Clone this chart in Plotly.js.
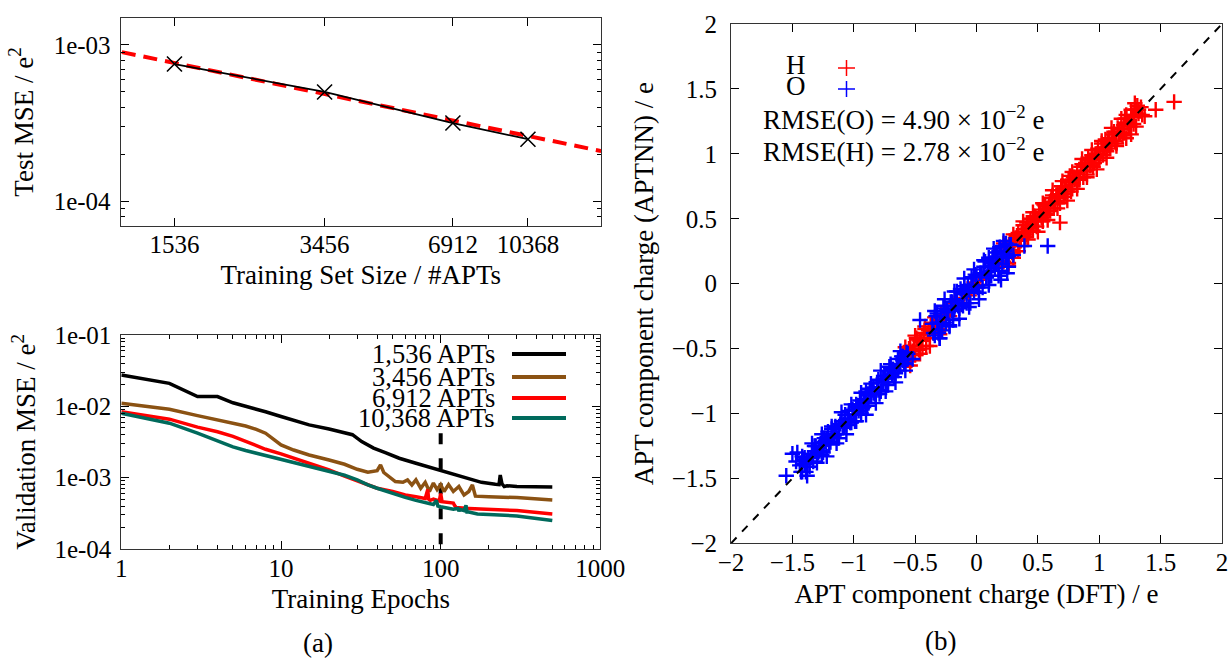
<!DOCTYPE html>
<html>
<head>
<meta charset="utf-8">
<script src="https://cdn.plot.ly/plotly-3.0.1.min.js"></script>
<style>html,body{margin:0;padding:0;background:#fff;}#chart{width:1228px;height:658px;}</style>
</head>
<body>
<div id="chart"></div>
<script>
// ---------- Panel (a) top: test MSE vs training set size ----------
const trainSizes = [1536, 3456, 6912, 10368];
const testMSE = [7.55e-4, 5.0e-4, 3.16e-4, 2.49e-4];
const fitSizes = [1156, 15400];
const fitMSE = [9.0e-4, 2.09e-4];
const sizeTickText = ['1536', '3456', '6912', '10368'];

// ---------- Panel (a) bottom: validation MSE vs epochs ----------
const ep1536 = [1,2,3,4,5,6,7,8,10,12,15,20,25,28,32,38,45,55,70,85,100,120,150,180,220,232,236,242,250,260,300,500];
const val1536 = [0.0275,0.021,0.0137,0.0137,0.0112,0.0101,0.0092,0.0084,0.0072,0.0063,0.0055,0.0048,0.0043,0.0040,0.0032,0.0026,0.00224,0.00187,0.00159,0.0014,0.00125,0.00113,0.00096,0.00086,0.00081,0.00080,0.00109,0.00082,0.00075,0.00077,0.00075,0.00074];
const ep3456 = [1,2,3,4,5,6,7,8,9,10,12,15,20,25,30,35,40,42,44,48,52,58,62,66,70,75,80,85,90,95,100,105,112,120,130,140,150,158,165,200,300,500];
const val3456 = [0.011,0.0091,0.0074,0.0065,0.0059,0.0053,0.00476,0.0042,0.00344,0.00287,0.00244,0.00208,0.00177,0.00154,0.00131,0.00119,0.00125,0.00151,0.00118,0.00103,0.00088,0.00086,0.00093,0.00079,0.00093,0.00071,0.00086,0.00064,0.00084,0.00068,0.00080,0.00064,0.00080,0.00064,0.00075,0.00057,0.00064,0.00079,0.00055,0.00054,0.000525,0.000486];
const ep6912 = [1,2,3,4,5,6,7,8,10,12,15,20,25,30,35,40,50,60,70,80,83,84,86,90,98,100,102,110,120,122,125,150,200,300,500];
const val6912 = [0.0084,0.0066,0.0051,0.0044,0.0038,0.0032,0.0028,0.0025,0.00215,0.00187,0.0016,0.00128,0.00105,0.00091,0.00079,0.00071,0.00064,0.00057,0.00054,0.00051,0.00068,0.00050,0.00048,0.00050,0.00047,0.00060,0.00046,0.00045,0.00044,0.00041,0.00038,0.00037,0.00036,0.000345,0.00031];
const ep10368 = [1,2,3,4,5,6,7,8,10,12,15,20,25,30,35,40,50,60,70,80,90,94,96,100,120,128,130,132,140,144,146,150,170,200,300,500];
const val10368 = [0.0080,0.0058,0.0042,0.0033,0.0027,0.0024,0.0022,0.00205,0.0018,0.00166,0.00145,0.00125,0.00108,0.00093,0.00079,0.00071,0.00060,0.00053,0.00048,0.00045,0.00042,0.00048,0.00040,0.00039,0.00036,0.00037,0.00034,0.00036,0.000345,0.00041,0.00033,0.00033,0.00031,0.000305,0.00029,0.00025];
const stopEpoch = [100, 100];
const stopMSE = [4.2e-3, 1e-4];
const legendLabels = ['1,536 APTs', '3,456 APTs', '6,912 APTs', '10,368 APTs'];

// ---------- Panel (b): APT component charges ----------
const hX = [-0.58,-0.56,-0.54,-0.52,-0.50,-0.48,-0.46,-0.44,-0.42,-0.40,-0.38,-0.36,-0.34,-0.32,-0.30,-0.28,
  -0.57,-0.55,-0.53,-0.51,-0.49,-0.47,-0.45,-0.43,-0.41,-0.39,-0.37,-0.35,-0.33,-0.31,-0.29,
  -0.58,-0.54,-0.50,-0.46,-0.42,-0.38,-0.34,-0.30,
  -0.26,-0.22,-0.18,-0.14,-0.10,-0.06,-0.02,0.02,0.06,0.10,0.14,0.18,0.26,0.30,
  0.20,0.22,0.24,0.26,0.28,0.30,0.32,0.34,0.36,0.38,0.40,0.42,0.44,0.46,0.48,0.50,0.52,0.54,0.56,0.58,0.60,0.62,0.64,0.66,0.68,0.70,0.72,0.74,0.76,0.78,0.80,0.82,0.84,0.86,0.88,0.90,0.92,0.94,0.96,0.98,1.00,1.02,1.04,1.06,1.08,1.10,1.12,1.14,1.16,1.18,1.20,1.22,1.24,1.26,1.28,1.30,1.32,1.34,
  0.21,0.23,0.25,0.27,0.29,0.31,0.33,0.35,0.37,0.39,0.41,0.43,0.45,0.47,0.49,0.51,0.53,0.55,0.57,0.59,0.61,0.63,0.65,0.67,0.69,0.71,0.73,0.75,0.77,0.79,0.81,0.83,0.85,0.87,0.89,0.91,0.93,0.95,0.97,0.99,1.01,1.03,1.05,1.07,1.09,1.11,1.13,1.15,1.17,1.19,1.21,1.23,1.25,1.27,1.29,
  0.22,0.26,0.30,0.34,0.38,0.42,0.46,0.50,0.54,0.58,0.62,0.66,0.70,0.74,0.78,0.82,0.86,0.90,0.94,0.98,1.02,1.06,1.10,1.14,1.18,1.22,1.26,1.30,
  0.24,0.28,0.32,0.36,0.40,0.44,0.48,0.52,0.56,0.60,0.64,0.68,0.72,0.76,0.80,0.84,0.88,0.92,0.96,1.00,1.04,1.08,1.12,1.16,1.20,1.24,1.28,1.32,
  1.61,1.46,1.29,1.31,1.26,0.68,1.35,1.22,1.37];
const hY = [-0.54,-0.59,-0.48,-0.52,-0.55,-0.43,-0.44,-0.50,-0.35,-0.39,-0.42,-0.30,-0.36,-0.28,-0.35,-0.25,
  -0.59,-0.50,-0.59,-0.48,-0.42,-0.51,-0.44,-0.38,-0.48,-0.36,-0.31,-0.38,-0.31,-0.37,-0.24,
  -0.49,-0.63,-0.40,-0.54,-0.33,-0.48,-0.26,-0.39,
  -0.24,-0.25,-0.15,-0.16,-0.08,-0.09,0.01,-0.01,0.08,0.06,0.17,0.13,0.14,0.20,
  0.23,0.17,0.30,0.25,0.32,0.24,0.34,0.39,0.33,0.45,0.36,0.43,0.50,0.41,0.51,0.48,0.57,0.48,0.60,0.58,0.56,0.68,0.62,0.69,0.62,0.75,0.73,0.71,0.83,0.73,0.82,0.86,0.80,0.92,0.87,0.84,0.95,0.99,0.93,1.00,0.95,1.08,1.04,1.02,1.12,1.08,1.17,1.08,1.19,1.19,1.16,1.27,1.22,1.29,1.23,1.34,1.31,1.36,
  0.17,0.28,0.23,0.33,0.24,0.33,0.37,0.29,0.40,0.38,0.47,0.40,0.45,0.52,0.44,0.55,0.51,0.61,0.53,0.61,0.66,0.58,0.68,0.66,0.75,0.67,0.75,0.80,0.71,0.82,0.81,0.80,0.90,0.82,0.93,0.97,0.91,0.90,1.00,1.04,1.00,0.99,1.11,1.09,1.04,1.15,1.10,1.20,1.15,1.14,1.27,1.24,1.21,1.30,1.34,
  0.31,0.16,0.38,0.25,0.48,0.34,0.55,0.40,0.62,0.49,0.72,0.58,0.79,0.64,0.86,0.73,0.96,0.82,1.03,0.88,1.10,0.97,1.20,1.06,1.27,1.12,1.34,1.21,
  0.25,0.26,0.35,0.35,0.42,0.41,0.48,0.54,0.54,0.63,0.63,0.69,0.69,0.78,0.80,0.82,0.91,0.91,0.98,0.97,1.05,1.06,1.15,1.15,1.22,1.21,1.28,1.34,
  1.40,1.34,1.39,1.37,1.15,0.47,1.30,1.30,1.29];
const oX = [-1.44,-1.42,-1.40,-1.38,-1.36,-1.34,-1.32,-1.30,-1.28,-1.26,-1.24,-1.22,-1.20,-1.18,-1.16,-1.14,-1.12,-1.10,-1.08,-1.06,-1.04,-1.02,-1.00,-0.98,-0.96,-0.94,-0.92,-0.90,-0.88,-0.86,-0.84,-0.82,-0.80,-0.78,-0.76,-0.74,-0.72,-0.70,-0.68,-0.66,-0.64,-0.62,-0.60,-0.58,-0.56,
  -1.43,-1.41,-1.39,-1.37,-1.35,-1.33,-1.31,-1.29,-1.27,-1.25,-1.23,-1.21,-1.19,-1.17,-1.15,-1.13,-1.11,-1.09,-1.07,-1.05,-1.03,-1.01,-0.99,-0.97,-0.95,-0.93,-0.91,-0.89,-0.87,-0.85,-0.83,-0.81,-0.79,-0.77,-0.75,-0.73,-0.71,-0.69,-0.67,-0.65,-0.63,-0.61,-0.59,-0.57,
  -1.42,-1.38,-1.34,-1.30,-1.26,-1.22,-1.18,-1.14,-1.10,-1.06,-1.02,-0.98,-0.94,-0.90,-0.86,-0.82,-0.78,-0.74,-0.70,-0.66,-0.62,-0.58,
  -1.40,-1.36,-1.32,-1.28,-1.24,-1.20,-1.16,-1.12,-1.08,-1.04,-1.00,-0.96,-0.92,-0.88,-0.84,-0.80,-0.76,-0.72,-0.68,-0.64,-0.60,-0.56,
  -0.36,-0.34,-0.32,-0.30,-0.28,-0.26,-0.24,-0.22,-0.20,-0.18,-0.16,-0.14,-0.12,-0.10,-0.08,-0.06,-0.04,-0.02,0.00,0.02,0.04,0.06,0.08,0.10,0.12,0.14,0.16,0.18,0.20,0.22,0.24,0.26,0.28,
  -0.35,-0.33,-0.31,-0.29,-0.27,-0.25,-0.23,-0.21,-0.19,-0.17,-0.15,-0.13,-0.11,-0.09,-0.07,-0.05,-0.03,-0.01,0.01,0.03,0.05,0.07,0.09,0.11,0.13,0.15,0.17,0.19,0.21,0.23,0.25,0.27,
  -0.34,-0.30,-0.26,-0.22,-0.18,-0.14,-0.10,-0.06,-0.02,0.02,0.06,0.10,0.14,0.18,0.22,0.26,
  -0.32,-0.28,-0.24,-0.20,-0.16,-0.12,-0.08,-0.04,0.00,0.04,0.08,0.12,0.16,0.20,0.24,
  -1.55,-1.50,-1.47,-1.46,0.58,0.39,-0.46,-0.30,-0.52,0.25,0.20,0.30];
const oY = [-1.40,-1.45,-1.34,-1.38,-1.41,-1.31,-1.25,-1.32,-1.27,-1.32,-1.19,-1.20,-1.24,-1.12,-1.17,-1.11,-1.19,-1.06,-1.08,-1.09,-0.98,-1.07,-0.98,-0.93,-0.98,-1.00,-0.89,-0.83,-0.92,-0.85,-0.80,-0.85,-0.74,-0.83,-0.76,-0.71,-0.78,-0.65,-0.66,-0.69,-0.58,-0.63,-0.56,-0.62,-0.54,
  -1.45,-1.36,-1.45,-1.34,-1.34,-1.37,-1.25,-1.30,-1.23,-1.30,-1.21,-1.14,-1.22,-1.17,-1.10,-1.19,-1.08,-1.11,-1.01,-1.04,-1.07,-0.97,-1.06,-0.95,-0.90,-0.96,-0.91,-0.94,-0.81,-0.82,-0.85,-0.76,-0.85,-0.76,-0.71,-0.76,-0.64,-0.70,-0.72,-0.62,-0.63,-0.56,-0.61,-0.53,
  -1.33,-1.48,-1.23,-1.38,-1.16,-1.33,-1.10,-1.23,-0.99,-1.16,-0.93,-1.06,-0.84,-1.01,-0.77,-0.92,-0.67,-0.83,-0.62,-0.76,-0.52,-0.67,
  -1.39,-1.38,-1.29,-1.29,-1.22,-1.23,-1.16,-1.10,-1.10,-1.01,-1.01,-0.95,-0.95,-0.86,-0.84,-0.82,-0.73,-0.73,-0.66,-0.67,-0.59,-0.58,
  -0.31,-0.40,-0.23,-0.30,-0.36,-0.19,-0.21,-0.32,-0.14,-0.20,-0.06,-0.19,-0.08,-0.02,-0.15,-0.05,0.05,-0.06,0.06,-0.07,0.07,0.13,0.05,0.20,0.06,0.16,0.24,0.10,0.25,0.21,0.31,0.21,0.30,
  -0.38,-0.25,-0.38,-0.25,-0.17,-0.30,-0.22,-0.14,-0.28,-0.12,-0.17,-0.04,-0.17,-0.06,-0.01,-0.15,-0.01,0.07,-0.03,0.08,-0.03,0.17,0.09,0.06,0.20,0.12,0.21,0.28,0.15,0.29,0.23,0.30,
  -0.21,-0.42,-0.12,-0.33,-0.06,-0.27,0.04,-0.18,0.11,-0.12,0.18,-0.01,0.27,0.06,0.33,0.13,
  -0.30,-0.31,-0.20,-0.21,-0.13,-0.16,-0.07,-0.01,-0.02,0.08,0.05,0.14,0.15,0.23,0.20,
  -1.48,-1.31,-1.37,-1.30,0.29,0.29,-0.28,-0.42,-0.58,0.08,0.03,0.22];
const diagX = [-2, 2];
const diagY = [-2, 2];
const chargeTicks = [-2, -1.5, -1, -0.5, 0, 0.5, 1, 1.5, 2];
const chargeTickText = ['\u22122', '\u22121.5', '\u22121', '\u22120.5', '0', '0.5', '1', '1.5', '2'];

// ---------- styling ----------
const FONT = '"Liberation Serif", "Times New Roman", serif';
const FS_TICK = 25;
const FS_TEXT = 27;
const FS_LEG = 26.5;
const FRAME = '#333';
const colors = ['#000000', '#8b5213', '#ff0000', '#006a5c'];

function logAxis(extra) {
  return Object.assign({
    type: 'log', showgrid: false, zeroline: false, showline: true, linecolor: FRAME, linewidth: 1,
    mirror: 'allticks', ticks: 'inside', ticklen: 8, tickcolor: '#000', tickwidth: 1,
    tickfont: {family: FONT, size: FS_TICK, color: '#000'}, tickmode: 'array'
  }, extra);
}
function minorVals(decades) {
  const out = [];
  decades.forEach(d => { for (let k = 2; k <= 9; k++) out.push(+(k * d).toPrecision(3)); });
  return out;
}
const titleFont = {family: FONT, size: FS_TEXT, color: '#000'};

const traces = [
  {x: fitSizes, y: fitMSE, xaxis: 'x', yaxis: 'y', mode: 'lines', line: {color: '#ff0000', width: 4, dash: '14px,8px'}},
  {x: trainSizes, y: testMSE, xaxis: 'x', yaxis: 'y', mode: 'lines+markers', line: {color: '#000', width: 1.8},
   marker: {symbol: 'x-thin-open', size: 15, color: '#000', line: {color: '#000', width: 1.6}}},
  {x: stopEpoch, y: stopMSE, xaxis: 'x2', yaxis: 'y2', mode: 'lines', line: {color: '#000', width: 4, dash: '11px,14px'}},
  {x: ep1536, y: val1536, xaxis: 'x2', yaxis: 'y2', mode: 'lines', line: {color: colors[0], width: 3.5}},
  {x: ep3456, y: val3456, xaxis: 'x2', yaxis: 'y2', mode: 'lines', line: {color: colors[1], width: 3.5}},
  {x: ep6912, y: val6912, xaxis: 'x2', yaxis: 'y2', mode: 'lines', line: {color: colors[2], width: 3.5}},
  {x: ep10368, y: val10368, xaxis: 'x2', yaxis: 'y2', mode: 'lines', line: {color: colors[3], width: 3.5}},
  {x: hX, y: hY, xaxis: 'x3', yaxis: 'y3', mode: 'markers', name: 'H',
   marker: {symbol: 'cross-thin-open', size: 11, color: '#ff0000', line: {color: '#ff0000', width: 2.4}}},
  {x: oX, y: oY, xaxis: 'x3', yaxis: 'y3', mode: 'markers', name: 'O',
   marker: {symbol: 'cross-thin-open', size: 11, color: '#0000ff', line: {color: '#0000ff', width: 2.4}}},
  {x: diagX, y: diagY, xaxis: 'x3', yaxis: 'y3', mode: 'lines', line: {color: '#000', width: 2, dash: '8px,8px'}}
];

const px = v => v / 1228;
const py = v => 1 - v / 658;
function note(text, x, y, xa, size) {
  return {text: text, x: px(x), y: py(y), xref: 'paper', yref: 'paper', xanchor: xa || 'center', yanchor: 'middle',
    showarrow: false, font: {family: FONT, size: size || FS_TEXT, color: '#000'}};
}

const annotations = [
  note('(a)', 318, 643),
  note('(b)', 940, 641),
  note('H', 796, 65),
  note('O', 796, 86),
  note('RMSE(O) = 4.90 \u00d7 10<sup>\u22122</sup> e', 761, 118, 'left'),
  note('RMSE(H) = 2.78 \u00d7 10<sup>\u22122</sup> e', 761, 150, 'left')
];
const legendY = [354, 377, 398, 418];
const shapes = [];
legendLabels.forEach((lab, i) => {
  annotations.push(note(lab, 497, legendY[i], 'right', FS_LEG));
  shapes.push({type: 'line', xref: 'paper', yref: 'paper', x0: px(512), x1: px(566), y0: py(legendY[i]), y1: py(legendY[i]), line: {color: colors[i], width: 4}});
});
[[68, '#ff0000'], [89, '#0000ff']].forEach(([yy, c]) => {
  shapes.push({type: 'line', xref: 'paper', yref: 'paper', x0: px(838), x1: px(855), y0: py(yy), y1: py(yy), line: {color: c, width: 1.5}});
  shapes.push({type: 'line', xref: 'paper', yref: 'paper', x0: px(846.5), x1: px(846.5), y0: py(yy - 8), y1: py(yy + 8), line: {color: c, width: 1.5}});
});

const layout = {
  width: 1228, height: 658, showlegend: false,
  margin: {l: 0, r: 0, t: 0, b: 0},
  paper_bgcolor: '#fff', plot_bgcolor: '#fff',
  font: {family: FONT, size: FS_TICK, color: '#000'},
  xaxis: logAxis({domain: [0.0982, 0.4894], anchor: 'y', range: [3.060, 4.187],
    tickvals: trainSizes, ticktext: sizeTickText, ticklabelstandoff: -4,
    title: {text: 'Training Set Size / #APTs', font: titleFont, standoff: 8}}),
  yaxis: logAxis({domain: [0.657, 0.9722], anchor: 'x', range: [-4.158, -2.829],
    tickvals: [1e-4, 1e-3], ticktext: ['1e-04', '1e-03'], ticklabelstandoff: 4,
    minor: {ticks: 'inside', ticklen: 4, tickcolor: '#000', tickmode: 'array', tickvals: [8e-5, 9e-5].concat(minorVals([1e-4]))},
    title: {text: 'Test MSE / e<sup>2</sup>', font: titleFont, standoff: 12}}),
  xaxis2: logAxis({domain: [0.0988, 0.4889], anchor: 'y2', range: [0, 3],
    tickvals: [1, 10, 100, 1000], ticktext: ['1', '10', '100', '1000'], ticklabelstandoff: -3, ticklabeloverflow: 'allow',
    minor: {ticks: 'inside', ticklen: 4, tickcolor: '#000', tickmode: 'array', tickvals: minorVals([1, 10, 100])},
    title: {text: 'Training Epochs', font: titleFont, standoff: 8}}),
  yaxis2: logAxis({domain: [0.1657, 0.4909], anchor: 'x2', range: [-4, -1],
    tickvals: [1e-4, 1e-3, 1e-2, 1e-1], ticktext: ['1e-04', '1e-03', '1e-02', '1e-01'], ticklabelstandoff: 4,
    minor: {ticks: 'inside', ticklen: 4, tickcolor: '#000', tickmode: 'array', tickvals: minorVals([1e-4, 1e-3, 1e-2])},
    title: {text: 'Validation MSE / e<sup>2</sup>', font: titleFont, standoff: 10}}),
  xaxis3: {domain: [0.5953, 0.9951], anchor: 'y3', range: [-2, 2], showgrid: false, zeroline: false,
    showline: true, linecolor: FRAME, mirror: 'allticks', ticks: 'inside', ticklen: 8, tickcolor: '#000',
    tickmode: 'array', tickvals: chargeTicks, ticktext: chargeTickText, ticklabelstandoff: -3, ticklabeloverflow: 'allow',
    tickfont: {family: FONT, size: FS_TICK, color: '#000'},
    title: {text: 'APT component charge (DFT) / e', font: titleFont, standoff: 8}},
  yaxis3: {domain: [0.1743, 0.9635], anchor: 'x3', range: [-2, 2], showgrid: false, zeroline: false,
    showline: true, linecolor: FRAME, mirror: 'allticks', ticks: 'inside', ticklen: 8, tickcolor: '#000',
    tickmode: 'array', tickvals: chargeTicks, ticktext: chargeTickText, ticklabelstandoff: 8, ticklabeloverflow: 'allow',
    tickfont: {family: FONT, size: FS_TICK, color: '#000'},
    title: {text: 'APT component charge (APTNN) / e', font: titleFont, standoff: 10}},
  annotations: annotations,
  shapes: shapes
};

Plotly.newPlot('chart', traces, layout, {staticPlot: true, displayModeBar: false});
</script>
</body>
</html>
